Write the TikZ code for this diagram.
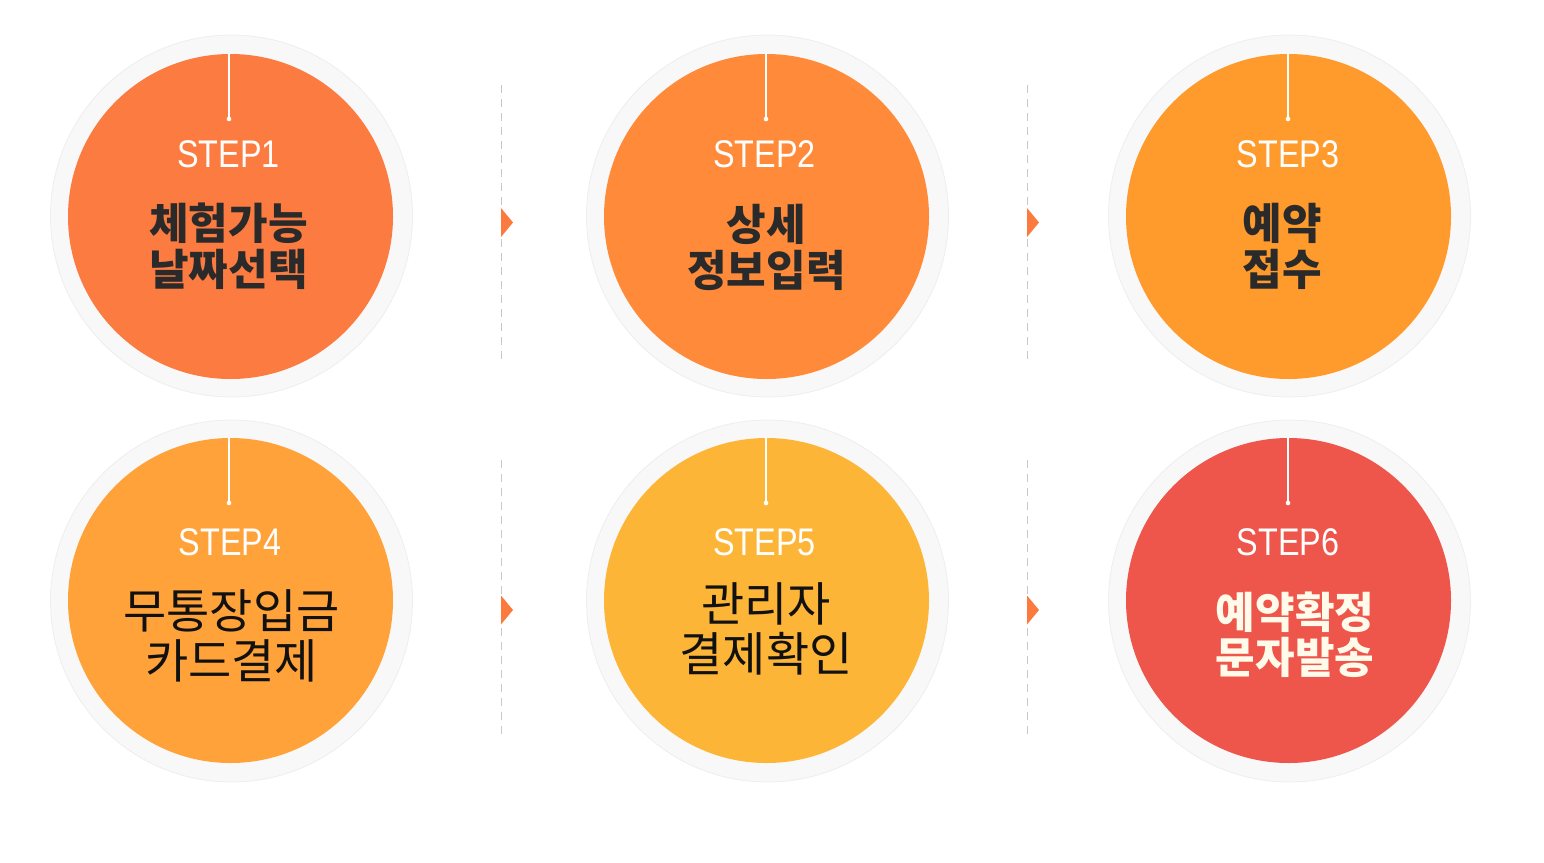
\documentclass[tikz,border=0pt]{standalone}
\usepackage{fontspec}
\newfontfamily\stepfont[FakeStretch=0.84]{Liberation Sans}
\newfontfamily\kofont{Noto Sans CJK KR}
\definecolor{cA}{HTML}{FC7B40}
\definecolor{cB}{HTML}{FF8B3A}
\definecolor{cC}{HTML}{FF9A2D}
\definecolor{cD}{HTML}{FFA23A}
\definecolor{cE}{HTML}{FDB538}
\definecolor{cF}{HTML}{EE554B}
\definecolor{ringfill}{HTML}{F8F8F8}
\definecolor{ringedge}{HTML}{EEEEEE}
\definecolor{dashgray}{HTML}{C8C8C8}
\definecolor{arrowor}{HTML}{FD7A3F}
\definecolor{darktxt}{HTML}{2A2A2A}
\definecolor{blacktxt}{HTML}{111111}
\definecolor{creamtxt}{HTML}{FFFAEA}
\tikzset{
  ring/.style={circle, inner sep=0pt, minimum size=362pt, fill=ringfill, draw=ringedge, line width=0.8pt},
  disc/.style={circle, inner sep=0pt, minimum size=325pt, fill=#1},
  steplabel/.style={anchor=base, inner sep=0pt, text=white, font=\stepfont\fontsize{38.5}{40}\selectfont},
  kob/.style={anchor=base, inner sep=0pt, text=darktxt, font=\kofont\bfseries\fontsize{43}{45}\selectfont},
  kor/.style={anchor=base, inner sep=0pt, text=blacktxt, font=\kofont\fontsize{47}{48}\selectfont},
  kow/.style={anchor=base, inner sep=0pt, text=creamtxt, font=\kofont\bfseries\fontsize{43}{45}\selectfont},
  tick/.style={draw=white, line width=1.2pt},
  tickdot/.style={fill=white},
  sep/.style={draw=dashgray, line width=1pt, dash pattern=on 8pt off 6pt},
  tri/.style={fill=arrowor}
}
\begin{document}
\begin{tikzpicture}[x=1pt,y=-1pt]
\useasboundingbox (0,0) rectangle (1544,862);
% outer rings
\node[ring] (r1) at (231.5,216) {};
\node[ring] (r2) at (767.5,216) {};
\node[ring] (r3) at (1289.5,216) {};
\node[ring] (r4) at (231.5,601) {};
\node[ring] (r5) at (767.5,601) {};
\node[ring] (r6) at (1289.5,601) {};
% discs
\node[disc=cA] (c1) at (230.5,216.5) {};
\node[disc=cB] (c2) at (766.5,216.5) {};
\node[disc=cC] (c3) at (1288.5,216.5) {};
\node[disc=cD] (c4) at (230.5,600.5) {};
\node[disc=cE] (c5) at (766.5,600.5) {};
\node[disc=cF] (c6) at (1288.5,600.5) {};
% ticks with dots
\coordinate (d1) at (229,119);
\coordinate (d2) at (766,119);
\coordinate (d3) at (1288,119);
\coordinate (d4) at (229,503);
\coordinate (d5) at (766,503);
\coordinate (d6) at (1288,503);
\foreach \i/\x/\t in {1/229/54,2/766/54,3/1288/54,4/229/438,5/766/438,6/1288/438}{
  \coordinate (t\i) at (\x,\t);
  \draw[tick] (t\i) -- (d\i);
  \fill[tickdot] (d\i) circle (2.3pt);
}
% STEP labels
\node[steplabel] (s1) at (228.5,167) {STEP1};
\node[steplabel] (s2) at (764.5,167) {STEP2};
\node[steplabel] (s3) at (1288,167) {STEP3};
\node[steplabel] (s4) at (230,555.5) {STEP4};
\node[steplabel] (s5) at (764.5,555.5) {STEP5};
\node[steplabel] (s6) at (1288,555.5) {STEP6};
% Korean texts
\node[kob] (k1a) at (228.5,239) {체험가능};
\node[kob] (k1b) at (228.5,285) {날짜선택};
\node[kob] (k2a) at (766.5,240) {상세};
\node[kob] (k2b) at (766.5,286) {정보입력};
\node[kob] (k3a) at (1282.5,239) {예약};
\node[kob] (k3b) at (1282.5,285) {접수};
\node[kor] (k4a) at (231.5,628) {무통장입금};
\node[kor] (k4b) at (231.5,678) {카드결제};
\node[kor] (k5a) at (766,621) {관리자};
\node[kor] (k5b) at (766,671) {결제확인};
\node[kow] (k6a) at (1295,628) {예약확정};
\node[kow] (k6b) at (1295,673) {문자발송};
% dashed separators
\coordinate (v1a) at (501,85);  \coordinate (v1b) at (501,360);
\coordinate (v2a) at (1027,85); \coordinate (v2b) at (1027,360);
\coordinate (v3a) at (501,460); \coordinate (v3b) at (501,738);
\coordinate (v4a) at (1027,460);\coordinate (v4b) at (1027,738);
\draw[sep] (v1a) -- (v1b);
\draw[sep] (v2a) -- (v2b);
\draw[sep] (v3a) -- (v3b);
\draw[sep] (v4a) -- (v4b);
% arrow triangles
\foreach \x/\y in {501/222.5,1027/222.5,501/610,1027/610}{
  \fill[tri] (\x,\y-14.5) -- (\x+12,\y) -- (\x,\y+14.5) -- cycle;
}
\end{tikzpicture}
\end{document}
